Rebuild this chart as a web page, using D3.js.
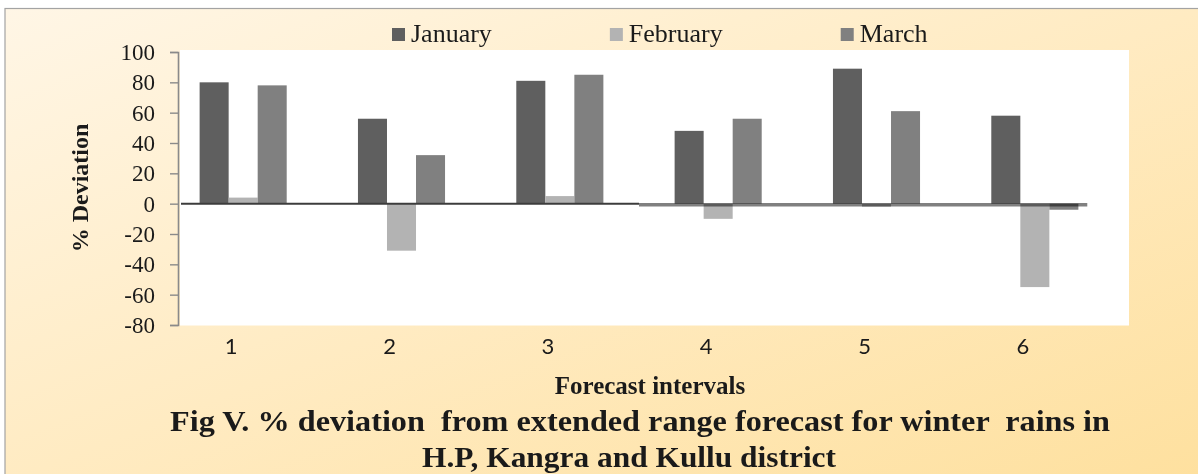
<!DOCTYPE html>
<html>
<head>
<meta charset="utf-8">
<script src="https://cdn.jsdelivr.net/npm/d3@7"></script>
<style>
  html, body { margin: 0; padding: 0; background: #ffffff; }
  svg { display: block; }
  text { font-family: "Liberation Serif", "Times New Roman", serif; fill: #1a1a1a; }
</style>
</head>
<body>
<svg id="chart" width="1198" height="474"></svg>
<script>
// Forecast intervals and % deviation for each month
const categories = ["1", "2", "3", "4", "5", "6"];
const january  = [80, 56, 81, 48, 89, 58];
const february = [4, -31, 5, -10, -2, -55];
const march    = [78, 32, 85, 56, 61, -4];
const seriesNames = ["January", "February", "March"];
const seriesColors = ["#5f5f5f", "#b3b3b3", "#808080"];
const yTicks = [100, 80, 60, 40, 20, 0, -20, -40, -60, -80];

const titleLines = [
  "Fig V. % deviation  from extended range forecast for winter  rains in",
  "H.P, Kangra and Kullu district"
];
const xTitle = "Forecast intervals";
const yTitle = "% Deviation";

const series = [january, february, march];

const W = 1198, H = 474;
const plot = { left: 180, right: 1129, top: 50, bottom: 325.5 };

const svg = d3.select("#chart");

// warm background panel
const defs = svg.append("defs");
const grad = defs.append("linearGradient")
  .attr("id", "bg").attr("x1", "0").attr("y1", "0").attr("x2", "1").attr("y2", "1");
grad.append("stop").attr("offset", "0%").attr("stop-color", "#fff6e6");
grad.append("stop").attr("offset", "50%").attr("stop-color", "#ffebc2");
grad.append("stop").attr("offset", "100%").attr("stop-color", "#fee09e");

svg.append("rect").attr("x", 5).attr("y", 8.5).attr("width", W).attr("height", H)
  .attr("fill", "url(#bg)").attr("stroke", "#a3a3a3").attr("stroke-width", 1.2);

// white plotting area
svg.append("rect")
  .attr("x", plot.left).attr("y", plot.top)
  .attr("width", plot.right - plot.left).attr("height", plot.bottom - plot.top)
  .attr("fill", "#ffffff");

// scales
const y = d3.scaleLinear().domain([-80, 100]).range([325, 52]);
const x = d3.scaleBand().domain(categories).range([164, 1114])
  .paddingInner(0.45).paddingOuter(0.225);
const xs = d3.scaleBand().domain(d3.range(series.length)).range([0, x.bandwidth()]);

// bars
series.forEach((vals, si) => {
  svg.append("g").selectAll("rect").data(vals).join("rect")
    .attr("x", (d, i) => x(categories[i]) + xs(si))
    .attr("width", xs.bandwidth())
    .attr("y", d => y(Math.max(0, d)))
    .attr("height", d => Math.abs(y(d) - y(0)))
    .attr("fill", seriesColors[si]);
});

// zero line: dark on the first half, grey (blended) on the second half
const step = x.step();
const gap = step - x.bandwidth();
const split = x(categories[3]) - gap / 2;
const zeroEnd = x(categories[5]) + x.bandwidth() + gap / 8;
svg.append("line")
  .attr("x1", plot.left + 1).attr("x2", split)
  .attr("y1", y(0)).attr("y2", y(0))
  .attr("stroke", "#3c3c3c").attr("stroke-width", 2);
svg.append("line")
  .attr("x1", split).attr("x2", zeroEnd)
  .attr("y1", y(0) + 1).attr("y2", y(0) + 1)
  .attr("stroke", "#808080").attr("stroke-width", 3.5)
  .style("mix-blend-mode", "multiply");

// y axis
const yAxis = svg.append("g")
  .attr("transform", `translate(${plot.left - 2},0)`)
  .call(d3.axisLeft(y).tickValues(yTicks).tickSize(8).tickPadding(15).tickFormat(d => String(d)));
yAxis.select(".domain").attr("stroke", "#8a8a8a").attr("stroke-width", 1.6);
yAxis.selectAll(".tick line").attr("stroke", "#8a8a8a").attr("stroke-width", 1.4);
yAxis.selectAll(".tick text")
  .style("font-family", "'Liberation Serif', serif")
  .style("font-size", "23px").attr("fill", "#1a1a1a");

// x axis labels (no axis line)
const xAxis = svg.append("g")
  .attr("transform", `translate(-12,${plot.bottom})`)
  .call(d3.axisBottom(x).tickSize(0).tickPadding(13));
xAxis.select(".domain").remove();
xAxis.selectAll(".tick text")
  .style("font-family", "Lato, 'Liberation Sans', sans-serif")
  .style("font-size", "22px").attr("fill", "#1a1a1a");

// axis titles
svg.append("text")
  .attr("transform", "translate(88,188) rotate(-90)")
  .attr("text-anchor", "middle")
  .style("font-weight", "bold").style("font-size", "24px")
  .text(yTitle);

svg.append("text")
  .attr("x", 650).attr("y", 394)
  .attr("text-anchor", "middle")
  .style("font-weight", "bold").style("font-size", "25px")
  .text(xTitle);

// figure caption
svg.append("text")
  .attr("x", 170).attr("y", 431)
  .attr("textLength", 940).attr("lengthAdjust", "spacingAndGlyphs")
  .style("white-space", "pre")
  .style("font-weight", "bold").style("font-size", "30px")
  .text(titleLines[0]);
svg.append("text")
  .attr("x", 422).attr("y", 467)
  .attr("textLength", 414).attr("lengthAdjust", "spacingAndGlyphs")
  .style("white-space", "pre")
  .style("font-weight", "bold").style("font-size", "30px")
  .text(titleLines[1]);

// legend across the top
const legend = svg.append("g");
let lx = 392;
seriesNames.forEach((name, i) => {
  const g = legend.append("g").attr("transform", `translate(${lx},0)`);
  g.append("rect").attr("x", 0).attr("y", 28).attr("width", 13).attr("height", 13)
    .attr("fill", seriesColors[i]);
  const t = g.append("text").attr("x", 19).attr("y", 42)
    .style("font-size", "26px").text(name);
  lx += 19 + t.node().getComputedTextLength() + 118;
});
</script>
</body>
</html>
